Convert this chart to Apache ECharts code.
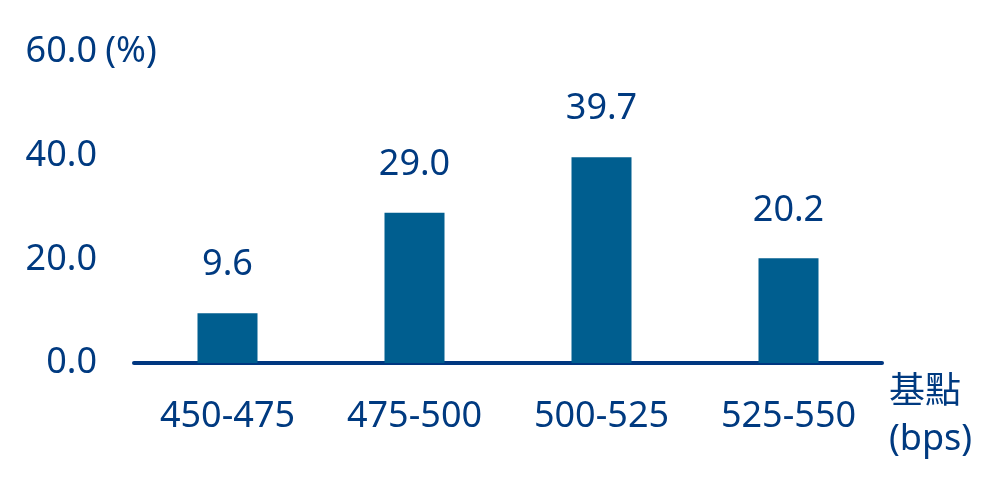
<!DOCTYPE html>
<html>
<head>
<meta charset="utf-8">
<script src="https://cdn.jsdelivr.net/npm/echarts@6/dist/echarts.min.js"></script>
<style>html,body{margin:0;padding:0;background:#fff;}#c{width:1000px;height:495px;}</style>
</head>
<body>
<div id="c"></div>
<script>
var categories = ['450-475', '475-500', '500-525', '525-550'];
var values = [9.6, 29.0, 39.7, 20.2];
var yTicks = [0, 20, 40, 60];

var textColor = '#003a80';
var font = '"Noto Sans", "Noto Sans CJK TC", sans-serif';
var chart = echarts.init(document.getElementById('c'));
chart.setOption({
  animation: false,
  grid: { left: 134, right: 118, top: 52, bottom: 132 },
  xAxis: {
    type: 'category',
    data: categories,
    axisLine: { lineStyle: { color: '#003780', width: 4 } },
    axisTick: { show: false },
    axisLabel: { color: textColor, fontSize: 36, fontFamily: font, margin: 36 },
    name: '基點\n(bps)',
    nameLocation: 'end',
    nameGap: 7,
    nameTextStyle: { color: textColor, fontSize: 36, fontFamily: font, lineHeight: 47, verticalAlign: 'top', align: 'left', padding: [6, 0, 0, 0] }
  },
  yAxis: {
    type: 'value',
    min: yTicks[0],
    max: yTicks[yTicks.length - 1],
    interval: 20,
    axisLine: { show: false },
    axisTick: { show: false },
    splitLine: { show: false },
    axisLabel: { color: textColor, fontSize: 36, fontFamily: font, margin: 37, formatter: function (v) { return v.toFixed(1); } },
    name: '(%)',
    nameLocation: 'end',
    nameGap: 0,
    nameTextStyle: { color: textColor, fontSize: 36, fontFamily: font, align: 'center', verticalAlign: 'middle', padding: [0, 6, 3, 0] }
  },
  series: [{
    type: 'bar',
    data: values,
    barWidth: 60,
    itemStyle: { color: '#005e8f' },
    label: {
      show: true,
      position: 'top',
      distance: 30,
      color: textColor,
      fontSize: 36,
      fontFamily: font,
      formatter: function (p) { return p.value.toFixed(1); }
    }
  }]
});
</script>
</body>
</html>
